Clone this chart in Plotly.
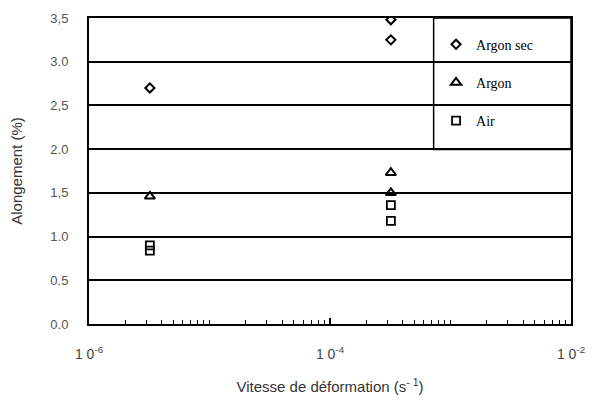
import plotly.graph_objects as go

# Data
rate_argon_sec = [3.2e-6, 3.2e-4, 3.2e-4]
elong_argon_sec = [2.70, 3.48, 3.25]

rate_argon = [3.2e-6, 3.2e-4, 3.2e-4]
elong_argon = [1.46, 1.73, 1.50]

rate_air = [3.2e-6, 3.2e-6, 3.2e-4, 3.2e-4]
elong_air = [0.90, 0.84, 1.36, 1.18]

y_tickvals = [0.0, 0.5, 1.0, 1.5, 2.0, 2.5, 3.0, 3.5]
y_ticktext = ["0.0", "0.5", "1.0", "1,5", "2.0", "2,5", "3.0", "3,5"]
x_tickvals = [1e-6, 1e-4, 1e-2]
x_ticktext = ["1 0<sup>-6</sup>", "1 0<sup>-4</sup>", "1 0<sup>-2</sup>"]

minor_vals = [m * 10.0 ** e for e in range(-6, -2) for m in range(2, 10)] + [1e-5, 1e-3]

fig = go.Figure()
fig.add_trace(go.Scatter(x=rate_argon_sec, y=elong_argon_sec, mode="markers", name="Argon sec",
                         legendgroup="a",
                         marker=dict(symbol="diamond-open", size=7, color="black",
                                     line=dict(color="black", width=2))))
fig.add_trace(go.Scatter(x=rate_argon, y=elong_argon, mode="markers", name="Argon",
                         legendgroup="b",
                         marker=dict(symbol="triangle-up-open", size=9, color="black",
                                     line=dict(color="black", width=2))))
fig.add_trace(go.Scatter(x=rate_air, y=elong_air, mode="markers", name="Air",
                         legendgroup="c",
                         marker=dict(symbol="square-open", size=8, color="black",
                                     line=dict(color="black", width=1.8))))

# legend box
fig.add_shape(type="rect", xref="paper", yref="paper", x0=0.715, x1=1.0, y0=0.57, y1=1.0,
              fillcolor="white", line=dict(color="black", width=1.5), layer="between")

# page body has an 8px margin, so the figure is drawn 8px smaller and offset
fig.update_layout(
    width=590, height=395,
    margin=dict(l=81, r=27, t=10, b=79),
    paper_bgcolor="white", plot_bgcolor="white",
    font=dict(family="Liberation Sans, Arial, sans-serif", color="#444"),
    showlegend=True,
    legend=dict(x=0.72, xanchor="left", y=0.965, yanchor="top",
                bgcolor="rgba(0,0,0,0)", borderwidth=0,
                font=dict(family="Liberation Serif, Times New Roman, serif", size=14, color="black"),
                tracegroupgap=17, itemwidth=30),
    xaxis=dict(type="log", range=[-6, -2], tickmode="array", tickvals=x_tickvals, ticktext=x_ticktext,
               ticks="inside", ticklen=6, tickwidth=1.5, tickcolor="black",
               showline=True, linecolor="black", linewidth=2, mirror=True, showgrid=False,
               zeroline=False, automargin=False, ticklabelstandoff=16,
               tickfont=dict(size=14, color="#444"),
               minor=dict(tickmode="array", tickvals=minor_vals, ticks="inside", ticklen=4,
                          tickwidth=1.2, tickcolor="black", showgrid=False),
               title=dict(text="Vitesse de déformation (s<sup>- 1</sup>)", font=dict(size=15, color="#333"),
                          standoff=21)),
    yaxis=dict(range=[0, 3.5], tickmode="array", tickvals=y_tickvals, ticktext=y_ticktext,
               ticks="inside", ticklen=4, tickwidth=1.5, tickcolor="black",
               showline=True, linecolor="black", linewidth=2, mirror=True,
               showgrid=True, gridcolor="black", gridwidth=1.5, zeroline=False,
               automargin=False, ticklabelstandoff=16,
               tickfont=dict(size=13, color="#555"),
               title=dict(text="Alongement (%)", font=dict(size=15, color="#333"), standoff=31)),
)

fig.write_html("out.html")
